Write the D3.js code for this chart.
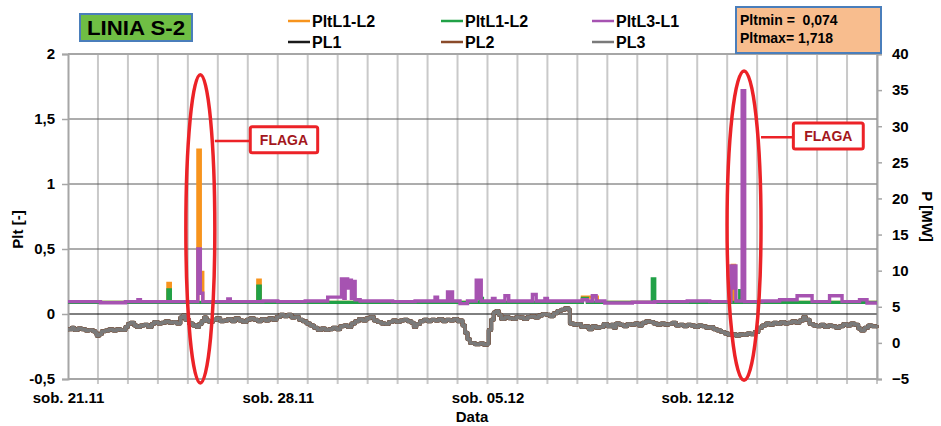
<!DOCTYPE html>
<html lang="pl">
<head>
<meta charset="UTF-8">
<title>LINIA S-2</title>
<script src="https://d3js.org/d3.v7.min.js"></script>
<style>
  body { margin: 0; background: #fff; }
  svg { display: block; font-family: "Liberation Sans", Arial, sans-serif; }
  .tick text { font-size: 15px; font-weight: bold; fill: #000; }
</style>
</head>
<body>
<svg id="chart" width="941" height="426"></svg>
<script>
// time = hours since sob. 21.11 00:00
const startDate = Date.UTC(2015, 10, 21);
const endDate = Date.UTC(2015, 11, 18);
const dateLabels = [Date.UTC(2015, 10, 21), Date.UTC(2015, 10, 28), Date.UTC(2015, 11, 5), Date.UTC(2015, 11, 12)];
const leftTicks = [-0.5, 0, 0.5, 1, 1.5, 2];
const rightTicks = [-5, 0, 5, 10, 15, 20, 25, 30, 35, 40];

// Plt step values [hour, value]
const pltL1L2 = [[0, 0.09], [80, 0.235], [82, 0.09], [104, 1.26], [106, 0.32], [108, 0.09], [152, 0.26], [154, 0.09],
  [412, 0.13], [424, 0.09], [532, 0.375], [534, 0.09], [648, 0.09]];
const pltL2L3 = [[0, 0.09], [80, 0.185], [82, 0.09], [152, 0.215], [154, 0.09], [230, 0.11], [232, 0.09],
  [330, 0.12], [332, 0.09], [412, 0.12], [416, 0.09], [468, 0.27], [470, 0.09], [538, 0.18], [540, 0.09], [648, 0.09]];
const pltL3L1 = [[0, 0.095], [26, 0.087], [46, 0.095], [56, 0.11], [58, 0.095], [104, 0.5], [106, 0.16], [108, 0.095],
  [128, 0.115], [130, 0.095], [156, 0.1], [168, 0.095], [190, 0.1], [208, 0.13], [219, 0.27], [221, 0.12], [222, 0.27],
  [224, 0.2], [225, 0.26], [227, 0.12], [228, 0.25], [230, 0.11], [234, 0.1], [260, 0.095], [278, 0.1], [294, 0.13],
  [296, 0.1], [304, 0.17], [306, 0.1], [307, 0.17], [308, 0.1], [314, 0.08], [320, 0.1], [327, 0.26], [329, 0.12],
  [330, 0.26], [331, 0.1], [340, 0.12], [342, 0.1], [350, 0.14], [353, 0.1], [372, 0.15], [375, 0.1],
  [382, 0.12], [384, 0.1], [412, 0.11], [416, 0.1], [420, 0.14], [423, 0.1], [430, 0.085], [452, 0.09], [470, 0.095],
  [496, 0.1], [514, 0.095], [531, 0.37], [533, 0.2], [534, 0.37], [535, 0.1], [540, 1.718], [542, 0.095], [556, 0.1],
  [570, 0.11], [584, 0.14], [596, 0.095], [610, 0.14], [620, 0.095], [634, 0.11], [640, 0.085], [648, 0.085]];

// P [MW] step values [hour, value] - PL1, PL2, PL3 lie on top of each other
const pl3 = [[0, 1.9], [3, 2.1], [5, 1.8], [8, 2.0], [11, 1.9], [14, 1.7], [17, 1.8], [20, 1.6], [22, 1.4], [23, 1.0],
  [25, 1.2], [27, 1.6], [30, 1.7], [33, 1.9], [36, 1.7], [39, 1.9], [42, 1.8], [46, 2.2], [48, 2.6], [50, 2.8],
  [53, 2.4], [55, 2.2], [58, 2.4], [61, 2.5], [64, 2.2], [67, 2.6], [69, 2.9], [72, 2.7], [75, 2.8], [78, 3.0],
  [81, 2.8], [84, 2.9], [87, 2.7], [90, 3.5], [92, 3.8], [94, 3.2], [97, 2.7], [100, 2.4], [103, 2.2], [105, 2.6],
  [107, 3.0], [109, 3.5], [111, 3.1], [113, 2.9], [116, 3.2], [119, 3.4], [122, 3.0], [125, 3.1], [128, 3.3],
  [131, 3.0], [134, 3.4], [137, 3.1], [140, 2.9], [143, 3.2], [146, 3.4], [149, 3.2], [152, 3.0], [155, 3.3],
  [158, 3.1], [161, 3.4], [164, 3.2], [167, 3.6], [170, 3.9], [173, 3.7], [176, 3.9], [179, 3.5], [182, 3.6],
  [185, 3.2], [188, 3.0], [191, 2.7], [194, 2.4], [197, 2.1], [200, 1.8], [203, 2.0], [206, 1.8], [209, 1.9],
  [212, 2.1], [215, 1.9], [218, 2.3], [221, 2.4], [224, 2.2], [227, 2.7], [230, 3.0], [233, 3.3], [236, 3.1],
  [239, 3.4], [242, 3.6], [245, 3.1], [248, 2.9], [251, 2.7], [254, 2.6], [257, 2.9], [260, 3.1], [263, 2.9],
  [266, 3.1], [269, 3.2], [272, 3.0], [275, 2.8], [277, 2.2], [279, 2.6], [282, 3.0], [285, 3.2], [288, 3.0],
  [291, 3.2], [294, 3.1], [297, 3.3], [300, 3.0], [303, 3.2], [306, 3.1], [309, 3.3], [312, 3.0], [314, 3.1],
  [316, 2.4], [318, 1.4], [320, 0.5], [322, 0.0], [326, -0.2], [330, -0.1], [333, -0.25], [336, -0.1], [337, 1.8],
  [339, 3.2], [341, 4.2], [343, 4.4], [345, 3.9], [347, 3.3], [350, 3.6], [353, 3.4], [356, 3.3], [359, 3.6],
  [362, 3.5], [365, 3.3], [368, 3.6], [371, 3.7], [374, 3.5], [377, 3.8], [380, 4.0], [383, 3.9], [386, 3.7],
  [389, 4.1], [392, 4.4], [395, 4.6], [398, 4.8], [401, 4.6], [402, 2.7], [405, 2.5], [408, 2.6], [411, 2.2],
  [414, 2.3], [417, 1.9], [420, 2.3], [423, 2.1], [426, 2.2], [429, 2.6], [432, 2.3], [435, 2.5], [437, 2.1],
  [439, 2.7], [442, 2.5], [445, 2.3], [448, 2.6], [451, 2.5], [454, 2.7], [457, 2.4], [460, 2.8], [463, 3.0],
  [466, 2.9], [469, 2.7], [472, 2.5], [475, 2.7], [478, 2.5], [481, 2.6], [484, 2.8], [487, 2.4], [490, 2.5],
  [493, 2.3], [496, 2.5], [499, 2.4], [502, 2.2], [505, 2.4], [508, 2.3], [511, 2.1], [514, 2.2], [517, 1.9],
  [520, 1.7], [523, 1.5], [526, 1.3], [529, 1.1], [532, 1.2], [535, 1.0], [538, 1.2], [541, 1.1], [544, 1.3],
  [547, 1.2], [550, 1.5], [553, 2.1], [556, 2.4], [559, 2.7], [562, 2.5], [565, 2.8], [568, 2.6], [571, 2.9],
  [574, 2.7], [577, 2.8], [580, 3.0], [583, 2.8], [586, 3.1], [589, 3.6], [591, 3.2], [594, 2.6], [597, 2.4],
  [600, 2.3], [603, 2.5], [606, 2.2], [609, 2.4], [612, 2.3], [615, 2.1], [618, 2.3], [621, 2.6], [624, 2.4],
  [627, 2.7], [630, 2.5], [633, 2.0], [635, 1.7], [638, 2.1], [641, 2.4], [644, 2.3], [648, 2.4]];
const pl1 = pl3;
const pl2 = pl3;

// annotations: ellipse centre hour, Plt top/bottom, half width in hours; label box corners
const flags = [
  { hour: 106, top: 1.84, bottom: -0.53, halfH: 11.6, box: [146, 200, 1.44, 1.24], lineY: 1.33 },
  { hour: 541.5, top: 1.87, bottom: -0.51, halfH: 13.6, box: [581, 637, 1.47, 1.27], lineY: 1.36 }
];

const svg = d3.select('#chart');
svg.append('rect').attr('width', 941).attr('height', 426).attr('fill', '#fff');

const plotLeft = 68, plotRight = 877, plotTop = 54, plotBottom = 379;
const x = d3.scaleLinear().domain([0, (endDate - startDate) / 3600e3]).range([plotLeft, plotRight]);
const xt = d3.scaleUtc().domain([startDate, endDate]).range([plotLeft, plotRight]);
const yL = d3.scaleLinear().domain([-0.5, 2]).range([plotBottom, plotTop]);
const yR = d3.scaleLinear().domain([-5, 40]).range([plotBottom, plotTop]);

// vertical grid (one per day)
svg.append('g').selectAll('line')
  .data(d3.utcDay.range(startDate + 3600e3, endDate + 3600e3))
  .enter().append('line')
  .attr('x1', d => xt(d)).attr('x2', d => xt(d))
  .attr('y1', plotTop).attr('y2', plotBottom + 5)
  .attr('stroke', '#c9c9c9').attr('stroke-width', 2);

// horizontal grid
svg.append('g').selectAll('line')
  .data(leftTicks)
  .enter().append('line')
  .attr('x1', plotLeft).attr('x2', plotRight)
  .attr('y1', d => yL(d)).attr('y2', d => yL(d))
  .attr('stroke', d => d === 0 ? '#000' : (d === 2 || d === -0.5 ? '#a6a6a6' : '#5a5a5a'))
  .attr('stroke-width', d => (d === 2 || d === -0.5) ? 2 : 1);

// axes
const gL = svg.append('g').attr('transform', `translate(${plotLeft},0)`)
  .call(d3.axisLeft(yL).tickValues(leftTicks).tickSize(6).tickPadding(7)
    .tickFormat(d => String(d).replace('.', ',')));
const gR = svg.append('g').attr('transform', `translate(${plotRight},0)`)
  .call(d3.axisRight(yR).tickValues(rightTicks).tickSize(5).tickPadding(10));
const gX = svg.append('g').attr('transform', `translate(0,${plotBottom})`)
  .call(d3.axisBottom(xt).tickValues(dateLabels).tickSize(0).tickPadding(13)
    .tickFormat(d => 'sob. ' + d3.utcFormat('%d.%m')(d)));
[gL, gR, gX].forEach(g => {
  g.select('.domain').attr('stroke', '#a6a6a6').attr('stroke-width', 2);
  g.selectAll('.tick line').attr('stroke', '#a6a6a6').attr('stroke-width', 1.5);
});
gX.select('.domain').remove();

// series
const stepL = d3.line().x(d => x(d[0])).y(d => yL(d[1])).curve(d3.curveStepAfter);
const stepR = d3.line().x(d => x(d[0])).y(d => yR(d[1])).curve(d3.curveStepAfter);
const series = [
  { data: pltL1L2, line: stepL, color: '#f7941d', w: 3.2, join: 'miter' },
  { data: pltL2L3, line: stepL, color: '#21a147', w: 3.2, join: 'miter' },
  { data: pltL3L1, line: stepL, color: '#a653b1', w: 3.4, join: 'miter' },
  { data: pl1, line: stepR, color: '#1a1a1a', w: 4, join: 'round' },
  { data: pl2, line: stepR, color: '#8a4b2a', w: 4, join: 'round' },
  { data: pl3, line: stepR, color: '#7a7a7a', w: 3.5, join: 'round' }
];
series.forEach(s => {
  svg.append('path').attr('d', s.line(s.data))
    .attr('fill', 'none').attr('stroke', s.color)
    .attr('stroke-width', s.w).attr('stroke-linejoin', s.join);
});

// axis titles
svg.append('text').attr('transform', `translate(23,${(plotTop + plotBottom) / 2 + 13}) rotate(-90)`)
  .attr('text-anchor', 'middle').attr('font-size', 15).attr('font-weight', 'bold').text('Plt [-]');
svg.append('text').attr('transform', `translate(922,${(plotTop + plotBottom) / 2}) rotate(90)`)
  .attr('text-anchor', 'middle').attr('font-size', 15).attr('font-weight', 'bold').text('P [MW]');
svg.append('text').attr('x', 472).attr('y', 422)
  .attr('text-anchor', 'middle').attr('font-size', 15).attr('font-weight', 'bold').text('Data');

// flags
flags.forEach(f => {
  const cx = x(f.hour), cy = (yL(f.top) + yL(f.bottom)) / 2;
  const rx = x(f.hour + f.halfH) - cx, ry = (yL(f.bottom) - yL(f.top)) / 2;
  svg.append('ellipse').attr('cx', cx).attr('cy', cy).attr('rx', rx).attr('ry', ry)
    .attr('fill', 'none').attr('stroke', '#ec2227').attr('stroke-width', 3.5);
  const bx0 = x(f.box[0]), bx1 = x(f.box[1]), by0 = yL(f.box[2]), by1 = yL(f.box[3]);
  svg.append('line').attr('x1', cx + rx).attr('x2', bx0)
    .attr('y1', yL(f.lineY)).attr('y2', yL(f.lineY))
    .attr('stroke', '#ec2227').attr('stroke-width', 2.5);
  svg.append('rect').attr('x', bx0).attr('y', by0).attr('width', bx1 - bx0).attr('height', by1 - by0)
    .attr('rx', 2).attr('fill', '#fff').attr('stroke', '#ec2227').attr('stroke-width', 3);
  svg.append('text').attr('x', (bx0 + bx1) / 2).attr('y', (by0 + by1) / 2 + 5)
    .attr('text-anchor', 'middle').attr('font-size', 14).attr('font-weight', 'bold')
    .attr('fill', '#a3161c').text('FLAGA');
});

// title box
svg.append('rect').attr('x', 80).attr('y', 14).attr('width', 112).attr('height', 27)
  .attr('fill', '#6fbe44').attr('stroke', '#4a7ebb').attr('stroke-width', 2);
svg.append('text').attr('x', 136).attr('y', 35).attr('text-anchor', 'middle')
  .attr('font-size', 21).attr('font-weight', 'bold').attr('textLength', 98)
  .attr('lengthAdjust', 'spacingAndGlyphs').text('LINIA S-2');

// legend
const legendItems = [
  { name: 'PltL1-L2', color: '#f7941d', lx: 288, ly: 21 },
  { name: 'PltL1-L2', color: '#21a147', lx: 441, ly: 21 },
  { name: 'PltL3-L1', color: '#a653b1', lx: 592, ly: 21 },
  { name: 'PL1', color: '#1a1a1a', lx: 288, ly: 42 },
  { name: 'PL2', color: '#8a4b2a', lx: 441, ly: 42 },
  { name: 'PL3', color: '#7a7a7a', lx: 592, ly: 42 }
];
const lg = svg.append('g').selectAll('g').data(legendItems).enter().append('g');
lg.append('line').attr('x1', d => d.lx).attr('x2', d => d.lx + 22)
  .attr('y1', d => d.ly).attr('y2', d => d.ly)
  .attr('stroke', d => d.color).attr('stroke-width', 2.5);
lg.append('text').attr('x', d => d.lx + 24).attr('y', d => d.ly + 6)
  .attr('font-size', 16).attr('font-weight', 'bold').text(d => d.name);

// min / max box
svg.append('rect').attr('x', 736).attr('y', 7).attr('width', 145).attr('height', 46)
  .attr('fill', '#f8bd8e').attr('stroke', '#4a7ebb').attr('stroke-width', 2);
svg.append('text').attr('x', 740).attr('y', 25).attr('font-size', 14).attr('font-weight', 'bold')
  .attr('xml:space', 'preserve').text('Pltmin =  0,074');
svg.append('text').attr('x', 740).attr('y', 43).attr('font-size', 14).attr('font-weight', 'bold')
  .text('Pltmax= 1,718');
</script>
</body>
</html>
